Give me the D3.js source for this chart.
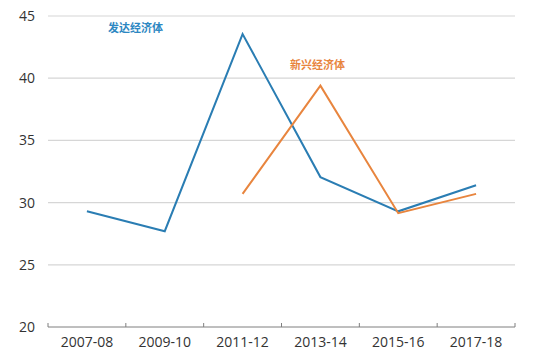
<!DOCTYPE html>
<html>
<head>
<meta charset="utf-8">
<script src="https://cdn.jsdelivr.net/npm/d3@7"></script>
<style>
    body { margin: 0; background: #fff; }
    text { font-family: "Open Sans", "Noto Sans CJK SC", sans-serif; }
</style>
</head>
<body>
<div id="chart"></div>
<script>
// data
const periods = ["2007-08", "2009-10", "2011-12", "2013-14", "2015-16", "2017-18"];
const advanced = [29.3, 27.7, 43.55, 32.05, 29.3, 31.4];
const emerging = [null, null, 30.7, 39.4, 29.15, 30.7];
const yTicks = [20, 25, 30, 35, 40, 45];

const width = 555, height = 351;
const margin = { top: 16, right: 40, bottom: 24, left: 48 };

const svg = d3.select("#chart").append("svg")
    .attr("width", width)
    .attr("height", height);

const x = d3.scaleBand()
    .domain(periods)
    .range([margin.left, width - margin.right]);

const y = d3.scaleLinear()
    .domain([20, 45])
    .range([height - margin.bottom, margin.top]);

// gridlines
svg.append("g")
    .selectAll("line")
    .data(yTicks.slice(1))
    .join("line")
    .attr("x1", margin.left)
    .attr("x2", width - margin.right)
    .attr("y1", d => y(d))
    .attr("y2", d => y(d))
    .attr("stroke", "#d6d6d6")
    .attr("stroke-width", 1.2);

// y labels
svg.append("g")
    .selectAll("text")
    .data(yTicks)
    .join("text")
    .attr("x", 35)
    .attr("y", d => y(d))
    .attr("dy", "0.35em")
    .attr("text-anchor", "end")
    .attr("font-size", 14)
    .attr("fill", "#333")
    .text(d => d);

// x axis
const xAxis = svg.append("g")
    .attr("transform", "translate(0," + y(20) + ")");
xAxis.append("line")
    .attr("x1", margin.left)
    .attr("x2", width - margin.right)
    .attr("stroke", "#7f7f7f")
    .attr("stroke-width", 1);
xAxis.selectAll(".tick")
    .data(periods.concat(["end"]))
    .join("line")
    .attr("class", "tick")
    .attr("x1", (d, i) => margin.left + i * x.bandwidth())
    .attr("x2", (d, i) => margin.left + i * x.bandwidth())
    .attr("y1", -4)
    .attr("y2", 0)
    .attr("stroke", "#7f7f7f");
xAxis.selectAll("text")
    .data(periods)
    .join("text")
    .attr("x", d => x(d) + x.bandwidth() / 2)
    .attr("y", 20)
    .attr("text-anchor", "middle")
    .attr("font-size", 14)
    .attr("fill", "#333")
    .text(d => d);

// lines
const line = d3.line()
    .defined(d => d[1] != null)
    .x(d => x(d[0]) + x.bandwidth() / 2)
    .y(d => y(d[1]));

svg.append("path")
    .datum(periods.map((p, i) => [p, advanced[i]]))
    .attr("fill", "none")
    .attr("stroke", "#2a7db3")
    .attr("stroke-width", 2)
    .attr("d", line);

svg.append("path")
    .datum(periods.map((p, i) => [p, emerging[i]]))
    .attr("fill", "none")
    .attr("stroke", "#e8853e")
    .attr("stroke-width", 2)
    .attr("d", line);

// series labels
svg.append("text")
    .attr("x", 108)
    .attr("y", 32)
    .attr("font-size", 11)
    .attr("font-weight", "bold")
    .attr("fill", "#2d87c2")
    .attr("font-family", "Noto Sans CJK SC")
    .text("发达经济体");

svg.append("text")
    .attr("x", 290)
    .attr("y", 69)
    .attr("font-size", 11)
    .attr("font-weight", "bold")
    .attr("fill", "#e8853e")
    .attr("font-family", "Noto Sans CJK SC")
    .text("新兴经济体");
</script>
</body>
</html>
